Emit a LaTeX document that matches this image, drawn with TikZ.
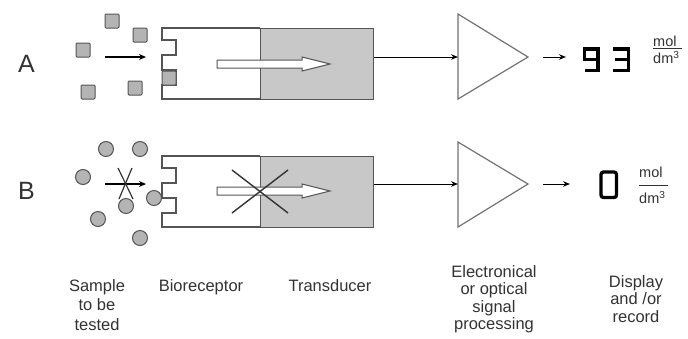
\documentclass[tikz,border=0pt]{standalone}
\usepackage{fontspec}
\setmainfont{Liberation Sans}
\usetikzlibrary{arrows.meta}
\definecolor{ink}{HTML}{333333}
\definecolor{edge}{HTML}{555555}
\definecolor{shade}{HTML}{C8C8C8}
\definecolor{particle}{HTML}{B4B4B4}
\begin{document}
\begin{tikzpicture}[x=1pt,y=-1pt,
  wall/.style={draw=edge,line width=1.2pt,line join=miter},
  amp/.style={draw=black!55,line width=1.2pt,line join=miter},
  flow/.style={draw=black,line width=1pt,-{Stealth[length=7pt,width=5.5pt]}},
  flowthick/.style={draw=black,line width=1.6pt,-{Stealth[length=7pt,width=6pt]}},
  hollow/.style={draw=edge,line width=1pt,fill=white,line join=miter},
  sq/.style={draw=edge,line width=1pt,fill=particle,minimum size=14pt,inner sep=0pt,rounded corners=1pt},
  ci/.style={draw=edge,line width=1pt,fill=particle,circle,minimum size=15pt,inner sep=0pt},
  seg/.style={draw=black,line width=3.3pt,line join=miter},
  lbl/.style={align=center,inner sep=0pt,anchor=north,text=ink,font=\fontsize{16.5}{17.5}\selectfont},
  unit/.style={text=ink,inner sep=0pt,anchor=west,font=\fontsize{14.5}{14.5}\selectfont},
  rowlbl/.style={text=ink,font=\fontsize{25}{25}\selectfont,inner sep=0pt},
  cross/.style={draw=ink,line width=1.2pt},
  bigcross/.style={draw=ink,line width=1.4pt}
]
\useasboundingbox[fill=white] (0,0) rectangle (688,338);

% ---------------- Row A ----------------
\node[rowlbl] (labA) at (26.5,64) {A};
\draw[wall,fill=white] (260,28) -- (162,28) -- (162,40) -- (176,40) -- (176,55) -- (162,55)
  -- (162,70) -- (176,70) -- (176,85) -- (162,85) -- (162,99) -- (260,99);
\node[wall,fill=shade,minimum width=113pt,minimum height=71pt,inner sep=0pt,anchor=north west] (transA) at (260,28) {};
\draw[hollow] (217,60) -- (302,60) -- (302,57) -- (330,64) -- (302,71) -- (302,68) -- (217,68) -- cycle;

\node[sq] (sqA1) at (112,21) {};
\node[sq] (sqA2) at (140,35) {};
\node[sq] (sqA3) at (83,50) {};
\node[sq] (sqA4) at (169,78) {};
\node[sq] (sqA5) at (135,88) {};
\node[sq] (sqA6) at (88,92) {};

\coordinate (inA-s) at (105,57);
\coordinate (inA-e) at (146,57);
\draw[flowthick] (inA-s) -- (inA-e);

\coordinate (ampA-in) at (458,57);
\coordinate (ampA-tip) at (528,57);
\draw[amp] (458,14) -- (ampA-tip) -- (458,99) -- cycle;
\draw[flow] (transA.east |- ampA-in) -- (ampA-in);

\coordinate (outA-s) at (543,57);
\node[inner sep=0pt,minimum width=48pt,minimum height=25pt,anchor=west] (dispA) at (582,57) {};
\draw[flow] (outA-s) -- ([xshift=-16pt]dispA.west);
% seven-segment 9
\draw[seg] (598,59.5) -- (584.5,59.5) -- (584.5,49) -- (598,49) -- (598,70.5) -- (584.5,70.5);
% seven-segment 3
\draw[seg] (613,49) -- (628.5,49) -- (628.5,70.5) -- (613,70.5);
\draw[seg] (615,59.5) -- (628.5,59.5);

\node[unit] (molA) at (653,41) {mol};
\draw[ink,line width=0.9pt] (653,48.5) -- (682,48.5);
\node[unit] (dmA) at (653,57.5) {dm\textsuperscript{3}};

% ---------------- Row B ----------------
\node[rowlbl] (labB) at (26.5,191) {B};
\draw[wall,fill=white] (260,156) -- (162,156) -- (162,168) -- (176,168) -- (176,183) -- (162,183)
  -- (162,198) -- (176,198) -- (176,213) -- (162,213) -- (162,227) -- (260,227);
\node[wall,fill=shade,minimum width=113pt,minimum height=71pt,inner sep=0pt,anchor=north west] (transB) at (260,156) {};
\draw[hollow] (217,187) -- (302,187) -- (302,184) -- (330,191) -- (302,198) -- (302,195) -- (217,195) -- cycle;
\draw[bigcross] (232,170) -- (288,213);
\draw[bigcross] (232,213) -- (288,170);

\node[ci] (ciB1) at (106,149) {};
\node[ci] (ciB2) at (140,149) {};
\node[ci] (ciB3) at (83,177) {};
\node[ci] (ciB4) at (126,206) {};
\node[ci] (ciB5) at (154,198) {};
\node[ci] (ciB6) at (98,219) {};
\node[ci] (ciB7) at (140,238) {};

\coordinate (inB-s) at (105,184);
\coordinate (inB-e) at (146,184);
\draw[flowthick] (inB-s) -- (inB-e);
\draw[cross] (118,168) -- (133,199);
\draw[cross] (132,168) -- (119,199);

\coordinate (ampB-in) at (458,184);
\coordinate (ampB-tip) at (528,184);
\draw[amp] (458,142) -- (ampB-tip) -- (458,227) -- cycle;
\draw[flow] (transB.east |- ampB-in) -- (ampB-in);

\coordinate (outB-s) at (543,184);
\node[inner sep=0pt,minimum width=20pt,minimum height=29pt,anchor=west] (dispB) at (599,184) {};
\draw[flow] (outB-s) -- ([xshift=-29pt]dispB.west);
\draw[seg,rounded corners=2.5pt] (601,172) rectangle (616.5,197.5);

\node[unit] (molB) at (639,172) {mol};
\draw[ink,line width=0.9pt] (639,185) -- (668,185);
\node[unit] (dmB) at (639,197.5) {dm\textsuperscript{3}};

% ---------------- Captions ----------------
\node[lbl,font=\fontsize{16.5}{19.5}\selectfont] (capSample) at (97,279) {Sample\\to be\\tested};
\node[lbl] (capBio) at (201,279) {Bioreceptor};
\node[lbl] (capTrans) at (330,279) {Transducer};
\node[lbl] (capElec) at (494,265) {Electronical\\or optical\\signal\\processing};
\node[lbl] (capDisp) at (636,275) {Display\\and /or\\record};
\end{tikzpicture}
\end{document}
